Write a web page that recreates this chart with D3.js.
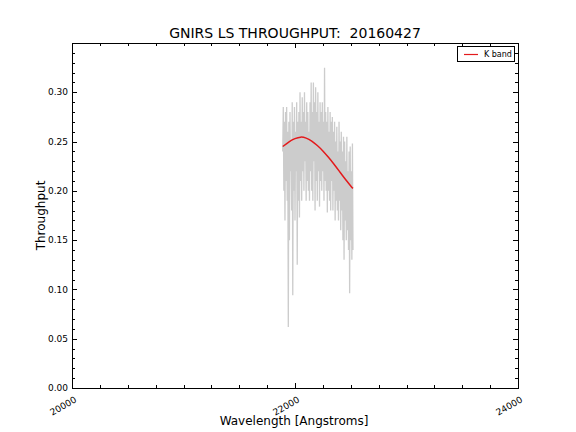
<!DOCTYPE html>
<meta charset="utf-8" />
<script src="https://d3js.org/d3.v7.min.js"></script>
<style>
  body { margin: 0; background: #fff; }
  text { font-family: "DejaVu Sans", sans-serif; white-space: pre; }
</style>
<body>
<div id="chart"></div>
<script>
  // spectrum: start wavelength + step
  const specStart = 21890, specStep = 5;
  const specValues = [
    0.24, 0.285, 0.20, 0.27, 0.17, 0.28, 0.21, 0.285, 0.19, 0.26,
    0.062, 0.27, 0.15, 0.28, 0.22, 0.25, 0.18, 0.29, 0.094, 0.27,
    0.20, 0.285, 0.17, 0.26, 0.22, 0.29, 0.125, 0.27, 0.19, 0.28,
    0.173, 0.30, 0.21, 0.27, 0.19, 0.295, 0.22, 0.28, 0.20, 0.30,
    0.23, 0.27, 0.19, 0.29, 0.21, 0.28, 0.20, 0.26, 0.19, 0.29,
    0.22, 0.31, 0.20, 0.28, 0.19, 0.31, 0.23, 0.29, 0.18, 0.305,
    0.21, 0.28, 0.19, 0.30, 0.22, 0.27, 0.184, 0.29, 0.21, 0.28,
    0.20, 0.29, 0.22, 0.27, 0.19, 0.325, 0.21, 0.28, 0.20, 0.27,
    0.178, 0.285, 0.20, 0.26, 0.19, 0.28, 0.18, 0.27, 0.21, 0.275,
    0.18, 0.26, 0.20, 0.27, 0.17, 0.25, 0.19, 0.265, 0.18, 0.24,
    0.17, 0.27, 0.19, 0.25, 0.16, 0.26, 0.18, 0.24, 0.15, 0.255,
    0.13, 0.25, 0.17, 0.23, 0.15, 0.255, 0.16, 0.22, 0.14, 0.24,
    0.096, 0.245, 0.15, 0.22, 0.13, 0.248, 0.14
  ];

  // smooth K band fit
  const fitWave = [21890, 21950, 22000, 22050, 22100, 22150, 22200, 22250, 22300, 22350, 22400, 22450, 22500, 22520];
  const fitValues = [0.245, 0.250, 0.253, 0.2545, 0.2535, 0.2505, 0.246, 0.2405, 0.234, 0.227, 0.2195, 0.212, 0.205, 0.2025];

  const xTicks = [20000, 22000, 24000];
  const yTicks = [0, 0.05, 0.10, 0.15, 0.20, 0.25, 0.30];

  const margin = {top: 43, right: 58, bottom: 44, left: 72},
      width = 576 - margin.left - margin.right,
      height = 432 - margin.top - margin.bottom;

  const svg = d3.select("#chart").append("svg")
      .attr("width", 576).attr("height", 432);
  const g = svg.append("g")
      .attr("transform", "translate(" + margin.left + "," + margin.top + ")");

  const x = d3.scaleLinear().domain([20000, 24000]).range([0, width]);
  const y = d3.scaleLinear().domain([0, 0.35]).range([height, 0]);

  g.append("defs").append("clipPath").attr("id", "clip")
    .append("rect").attr("width", width).attr("height", height);

  const spec = specValues.map((v, i) => [specStart + i * specStep, v]);

  g.append("path")
    .datum(spec)
    .attr("clip-path", "url(#clip)")
    .attr("fill", "none")
    .attr("stroke", "#cccccc")
    .attr("stroke-width", 1.3)
    .attr("d", d3.line().x(d => x(d[0])).y(d => y(d[1])));

  const fit = fitWave.map((w, i) => [w, fitValues[i]]);
  g.append("path")
    .datum(fit)
    .attr("fill", "none")
    .attr("stroke", "#e31a1c")
    .attr("stroke-width", 1.5)
    .attr("d", d3.line().x(d => x(d[0])).y(d => y(d[1])).curve(d3.curveNatural));

  // ticks inward on all sides (major + minor)
  const xMinor = d3.range(20000, 24001, 250);
  const yMinor = d3.range(0, 0.3501, 0.01);
  const tk = g.append("g").attr("stroke", "#000").attr("stroke-width", 1);
  xMinor.forEach(v => {
    const len = xTicks.includes(v) ? 5 : 3;
    const px = Math.round(x(v)) + 0.5;
    tk.append("line").attr("x1", px).attr("x2", px).attr("y1", height).attr("y2", height - len);
    tk.append("line").attr("x1", px).attr("x2", px).attr("y1", 0).attr("y2", len);
  });
  yMinor.forEach((v, i) => {
    const len = i % 5 === 0 ? 5 : 3;
    const py = Math.round(y(v)) + 0.5;
    tk.append("line").attr("x1", 0).attr("x2", len).attr("y1", py).attr("y2", py);
    tk.append("line").attr("x1", width).attr("x2", width - len).attr("y1", py).attr("y2", py);
  });

  g.append("rect")
    .attr("x", 0.5).attr("y", 0.5)
    .attr("width", width).attr("height", height)
    .attr("fill", "none").attr("stroke", "#000").attr("stroke-width", 1);

  // tick labels
  g.selectAll(".ylab").data(yTicks).enter().append("text")
    .attr("x", -4).attr("y", d => y(d))
    .attr("dy", "0.35em")
    .attr("text-anchor", "end")
    .style("font-size", "9px")
    .text(d => d.toFixed(2));

  g.selectAll(".xlab").data(xTicks).enter().append("text")
    .attr("transform", d => "translate(" + (x(d) + 2) + "," + (height + 8) + ") rotate(-30)")
    .attr("text-anchor", "end")
    .attr("dy", "0.7em")
    .style("font-size", "9px")
    .text(d => d);

  // titles
  svg.append("text")
    .attr("x", margin.left + width / 2).attr("y", 38)
    .attr("text-anchor", "middle")
    .style("font-size", "14px")
    .text("GNIRS LS THROUGHPUT:  20160427");

  svg.append("text")
    .attr("x", margin.left + width / 2 - 1).attr("y", 425)
    .attr("text-anchor", "middle")
    .style("font-size", "12px")
    .text("Wavelength [Angstroms]");

  svg.append("text")
    .attr("transform", "translate(45," + (margin.top + height / 2) + ") rotate(-90)")
    .attr("text-anchor", "middle")
    .style("font-size", "12px")
    .text("Throughput");

  // legend
  const lg = g.append("g").attr("transform", "translate(" + (width - 61) + ",3)");
  lg.append("rect").attr("x", 0.5).attr("y", 0.5).attr("width", 57).attr("height", 15)
    .attr("fill", "#fff").attr("stroke", "#000").attr("stroke-width", 1);
  lg.append("line").attr("x1", 7).attr("x2", 21).attr("y1", 8.5).attr("y2", 8.5)
    .attr("stroke", "#e31a1c").attr("stroke-width", 1.2);
  lg.append("text").attr("x", 27).attr("y", 8.5).attr("dy", "0.35em")
    .style("font-size", "8px").text("K band");
</script>
</body>
